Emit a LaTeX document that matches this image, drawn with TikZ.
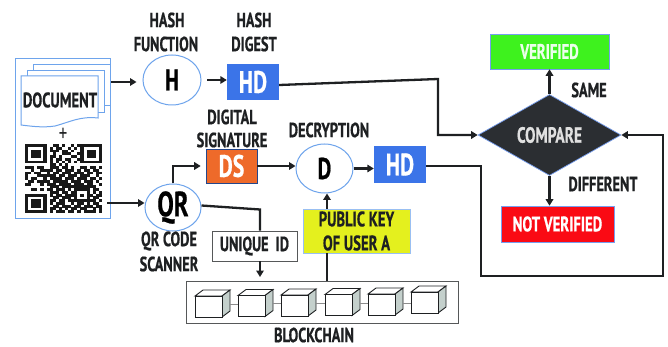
\documentclass[tikz,border=0pt]{standalone}
\usepackage{fontspec}
\setmainfont[FakeStretch=0.7,BoldFont={PT Sans Bold},BoldFeatures={FakeBold=0.6}]{PT Sans}
\usetikzlibrary{shapes.geometric,arrows.meta}
\definecolor{ink}{HTML}{1E2022}
\definecolor{edgeblue}{HTML}{6EA4EC}
\definecolor{hdblue}{HTML}{3B74E8}
\definecolor{dsorange}{HTML}{EE6A2A}
\definecolor{keyyellow}{HTML}{E4F01E}
\definecolor{okgreen}{HTML}{3EF21E}
\definecolor{badred}{HTML}{FA0A14}
\definecolor{cmpdark}{HTML}{2B2E32}
\definecolor{cubeside}{HTML}{C4D0CC}
\tikzset{
  conn/.style={draw=ink,line width=2.3pt,-{Triangle[length=6.5pt,width=7.5pt]}},
  plainconn/.style={draw=ink,line width=2.3pt},
  lbl/.style={font=\bfseries\fontsize{20.5}{20.5}\selectfont,text=ink,inner sep=0pt},
  circ/.style={ellipse,draw=edgeblue,line width=1pt,fill=white,inner sep=0pt,text=black,font=\bfseries\fontsize{30}{30}\selectfont},
  colorbox/.style={rectangle,inner sep=0pt,text=white,font=\bfseries\fontsize{#1}{#1}\selectfont},
  page/.style={draw=edgeblue,line width=1pt,fill=white},
  outlinebox/.style={rectangle,draw=ink!75,line width=1pt,fill=white,inner sep=0pt},
  cubelink/.style={draw=black!45,line width=0.7pt},
}
\newcount\qrcol
\newcount\qrrow
\def\qrscan#1{\ifx#1;\global\qrcol=0 \global\advance\qrrow by 1 \else
  \if#11\fill[black!90] ({25+3.08*\the\qrcol},{144+2.76*\the\qrrow}) rectangle +(3.2,2.9);\fi
  \global\advance\qrcol by 1 \expandafter\qrscan\fi}
\begin{document}
\begin{tikzpicture}[x=1pt,y=-1pt]
\useasboundingbox (0,0) rectangle (668,347);
\fill[white] (0,0) rectangle (668,347);

% document panel
\node[rectangle,draw=edgeblue,line width=1pt,fill=white,minimum width=95pt,minimum height=159pt,inner sep=0pt] (panel) at (62.5,138.5) {};
\draw[page] (33,65) -- (110,65) -- (110,106) -- (33,106) -- cycle;
\draw[page] (27,71) -- (104,71) -- (104,113) -- (27,113) -- cycle;
\draw[page] (21,76) -- (98,76) -- (98,118) .. controls (80,116) and (70,122) .. (55,126) .. controls (42,128) and (30,126) .. (21,125) -- cycle;
\node[lbl,font=\bfseries\fontsize{21}{21}\selectfont] (doctext) at (60,100) {DOCUMENT};
\node[font=\fontsize{24}{24}\selectfont,text=ink,inner sep=0pt] (plus) at (63,135) {+};

% QR code
\qrcol=0 \qrrow=0
\qrscan 1111111001101001011111111;
\qrscan 1000001010110010101000001;
\qrscan 1011101011101101001011101;
\qrscan 1011101001001110011011101;
\qrscan 1011101011010001101011101;
\qrscan 1000001010110110011000001;
\qrscan 1111111010101010101111111;
\qrscan 0000000011010100000000000;
\qrscan 1110110011101101001101101;
\qrscan 0010011110110111010110110;
\qrscan 1101100101101110111011011;
\qrscan 1000111111011011101110010;
\qrscan 1011001011110111011101101;
\qrscan 0110111101111101110111010;
\qrscan 1100010111011110111011001;
\qrscan 0000000011101111111111100;
\qrscan 0011010110111010111110110;
\qrscan 0000000011101101100010101;
\qrscan 1111111010110111101011011;
\qrscan 1000001001101110100010110;
\qrscan 1011101011011011111111101;
\qrscan 1011101010111001011010110;
\qrscan 1011101001101110110111011;
\qrscan 1000001011010101101100101;
\qrscan 1111111010111011010111101;

% main nodes
\node[circ,minimum width=58pt,minimum height=50pt] (H) at (172,80) {H};
\node[colorbox=31,fill=hdblue,minimum width=52pt,minimum height=36pt] (hdA) at (253,82) {HD};
\node[colorbox=31,fill=dsorange,draw=hdblue!60!black,line width=0.6pt,minimum width=51pt,minimum height=34pt] (ds) at (231.5,166) {DS};
\node[circ,minimum width=57pt,minimum height=49pt] (D) at (324.5,168.5) {D};
\node[colorbox=31,fill=hdblue,minimum width=52pt,minimum height=37pt] (hdB) at (400,164.5) {HD};
\node[circ,font=\bfseries\fontsize{35}{35}\selectfont,minimum width=56pt,minimum height=47pt] (qr) at (173,207.5) {QR};
\node[outlinebox,text=ink,font=\bfseries\fontsize{20.5}{20.5}\selectfont,minimum width=85pt,minimum height=30pt] (uid) at (254.5,246) {UNIQUE\, ID};
\node[rectangle,fill=keyyellow,draw=edgeblue!70,line width=0.8pt,inner sep=0pt,text=ink,align=center,font=\bfseries\fontsize{21}{24}\selectfont,minimum width=107pt,minimum height=44pt] (key) at (356.5,231) {PUBLIC KEY\\OF USER A};
\node[outlinebox,minimum width=272pt,minimum height=42pt] (chain) at (322,302) {};
\node[diamond,fill=cmpdark,draw=hdblue!70,line width=0.7pt,inner sep=0pt,text=white!88!black,font=\bfseries\fontsize{22}{22}\selectfont,minimum width=143pt,minimum height=63pt] (cmp) at (549.5,135) {COMPARE};
\node[colorbox=21,fill=okgreen,draw=hdblue!70,line width=0.6pt,text=white!92!green,minimum width=119pt,minimum height=35pt] (ok) at (549.5,51.5) {VERIFIED};
\node[colorbox=21,fill=badred,draw=hdblue!70,line width=0.6pt,minimum width=113pt,minimum height=36pt] (bad) at (557.5,224) {NOT VERIFIED};

% labels
\node[lbl] (l1) at (167,20) {HASH};
\node[lbl] (l2) at (166,44) {FUNCTION};
\node[lbl] (l3) at (254,20) {HASH};
\node[lbl] (l4) at (254,44) {DIGEST};
\node[lbl] (l5) at (232,117) {DIGITAL};
\node[lbl] (l6) at (232,140) {SIGNATURE};
\node[lbl] (l7) at (329,130) {DECRYPTION};
\node[lbl] (l8) at (169,241) {QR CODE};
\node[lbl] (l9) at (169,264) {SCANNER};
\node[lbl] (l10) at (314,335) {BLOCKCHAIN};
\node[lbl] (l11) at (589,90) {SAME};
\node[lbl] (l12) at (603,184) {DIFFERENT};

% blockchain cubes
\foreach \cx/\cy [count=\i] in {195/296,238/295.5,281/295,325/294.5,368/294,411/292}{
  \coordinate (cube\i) at (\cx,\cy);
  \path[fill=white,draw=ink,line width=0.9pt] (\cx,\cy) -- ++(8,-6) -- ++(27,0) -- ++(-8,6) -- cycle;
  \path[fill=cubeside,draw=ink,line width=0.9pt] (\cx+27,\cy) -- ++(8,-6) -- ++(0,21) -- ++(-8,6) -- cycle;
  \path[fill=white,draw=ink,line width=0.9pt] (\cx,\cy) rectangle ++(27,21);
}
\foreach \a/\b/\ya/\yb in {230/238/304/304,273/281/303/303,316/325/303/303,360/368/303/303,403/411/303/303}{
  \draw[cubelink] (\a,\ya) -- (\b,\yb);
}

% connectors
\coordinate (docA) at (111,82);
\coordinate (docB) at (107,203);
\coordinate (hOut) at (207,80);
\coordinate (chainUp) at (327,281);
\coordinate (hdBout) at (426,166);
\draw[conn] (docA) -- ([xshift=-6pt]H.west |- docA);
\draw[conn] (hOut) -- (hdA.west |- hOut);
\draw[conn] (docB) -- (qr.west |- docB);
\draw[conn] ([yshift=-3pt]hdA.east) -- (438,79) -- (438,135) -- (cmp.west);
\draw[conn] (qr.north) -- (173,166) -- ([xshift=-5pt]ds.west);
\draw[conn] (ds.east) -- (D.west |- ds.east);
\draw[conn] (D.east) -- (hdB.west |- D.east);
\draw[plainconn] ([yshift=2pt]qr.east) -- (260,209.5) -- (uid.north -| 260,0);
\draw[conn] (260,261) -- (260,277);
\draw[plainconn] (chainUp) -- (key.south -| chainUp);
\draw[conn] (key.north -| chainUp) -- (D.south -| chainUp);
\draw[conn] (hdBout) -- (481,166) -- (481,276) -- (663,276) -- (663,135) -- (cmp.east);
\draw[conn] (cmp.north) -- (ok.south -| cmp.north);
\draw[conn] (cmp.south) -- (bad.north -| cmp.south);
\end{tikzpicture}
\end{document}
